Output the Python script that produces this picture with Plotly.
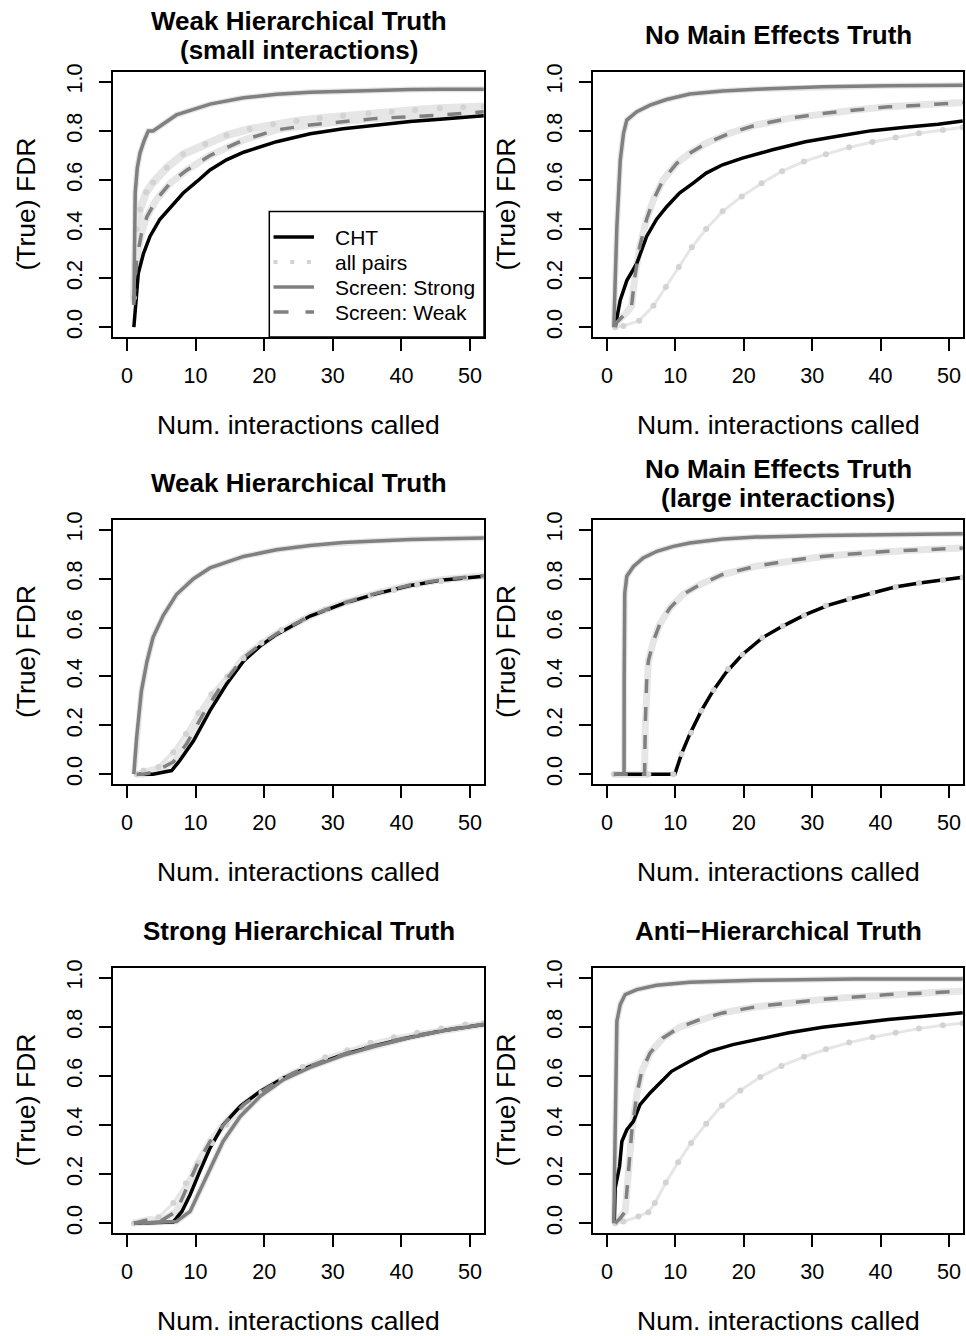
import plotly.graph_objects as go

# ---------------- data ----------------
X_TICKS = [0, 10, 20, 30, 40, 50]
Y_TICKS = [0.0, 0.2, 0.4, 0.6, 0.8, 1.0]
Y_TICK_LABELS = ["0.0", "0.2", "0.4", "0.6", "0.8", "1.0"]
SERIES_NAMES = ["CHT", "all pairs", "Screen: Strong", "Screen: Weak"]
PANEL_TITLES = [
    ["Weak Hierarchical Truth", "(small interactions)"],
    ["No Main Effects Truth"],
    ["Weak Hierarchical Truth"],
    ["No Main Effects Truth", "(large interactions)"],
    ["Strong Hierarchical Truth"],
    ["Anti\u2212Hierarchical Truth"],
]
X_LABEL = "Num. interactions called"
Y_LABEL = "(True) FDR"

# Panel 1: Weak Hierarchical Truth (small interactions)
p1_cht_x = [1.0, 1.3, 1.65, 2.4, 3.35, 4.8, 6.3, 8.2, 10.2, 12.1, 14.5, 17, 21.8, 26.7, 31.5, 36.4, 41.3, 46.1, 52]
p1_cht_y = [0.0, 0.09, 0.22, 0.30, 0.37, 0.44, 0.486, 0.547, 0.594, 0.641, 0.682, 0.713, 0.756, 0.788, 0.809, 0.824, 0.838, 0.848, 0.862]
p1_all_x = [1.0, 1.2, 1.4, 1.9, 2.8, 3.8, 5.8, 8.2, 11.4, 14.5, 17.9, 21.3, 24.7, 28.1, 31.5, 35.2, 38.6, 42.0, 45.6, 49.0, 52]
p1_all_y = [0.12, 0.25, 0.40, 0.48, 0.55, 0.59, 0.65, 0.705, 0.747, 0.782, 0.808, 0.827, 0.840, 0.852, 0.862, 0.871, 0.878, 0.885, 0.892, 0.896, 0.899]
p1_str_x = [1.0, 1.1, 1.2, 1.5, 1.9, 2.5, 3.1, 3.8, 4.8, 7.2, 9.7, 12.1, 17, 21.8, 26.7, 31.5, 36.4, 41.3, 46.1, 52]
p1_str_y = [0.09, 0.35, 0.55, 0.65, 0.71, 0.76, 0.80, 0.80, 0.82, 0.865, 0.888, 0.909, 0.935, 0.949, 0.957, 0.962, 0.966, 0.969, 0.970, 0.970]
p1_wk_x = [1.0, 1.4, 2.1, 2.9, 4.3, 6.3, 8.7, 12.1, 17, 21.8, 26.7, 31.5, 36.4, 41.3, 46.1, 52]
p1_wk_y = [0.10, 0.276, 0.38, 0.45, 0.52, 0.587, 0.64, 0.70, 0.763, 0.804, 0.824, 0.838, 0.851, 0.858, 0.865, 0.878]

# Panel 2: No Main Effects Truth
p2_cht_x = [1.2, 1.94, 2.9, 4.36, 5.8, 7.26, 8.7, 10.6, 12.6, 14.5, 16.9, 19.8, 24.2, 29, 33.9, 38.7, 43.6, 48.4, 52]
p2_cht_y = [0.0, 0.11, 0.19, 0.26, 0.37, 0.44, 0.49, 0.547, 0.587, 0.628, 0.662, 0.689, 0.723, 0.756, 0.779, 0.801, 0.815, 0.827, 0.84]
p2_all_x = [1.2, 2.4, 4.7, 6.8, 8.6, 10.5, 12.4, 14.5, 16.9, 19.7, 22.6, 25.6, 28.8, 32.0, 35.4, 38.8, 42.2, 45.6, 49.1, 52]
p2_all_y = [0.0, 0.005, 0.026, 0.087, 0.164, 0.245, 0.326, 0.40, 0.472, 0.533, 0.587, 0.636, 0.675, 0.705, 0.733, 0.755, 0.773, 0.79, 0.804, 0.815]
p2_str_x = [1.0, 1.2, 1.45, 1.94, 2.42, 2.9, 4.36, 6.3, 8.7, 12.1, 16.9, 21.8, 31.5, 41.1, 52]
p2_str_y = [0.0, 0.2, 0.41, 0.68, 0.79, 0.844, 0.878, 0.905, 0.928, 0.95, 0.963, 0.970, 0.98, 0.984, 0.986]
p2_wk_x = [1.2, 1.45, 2.9, 3.6, 4.1, 4.8, 5.8, 6.8, 8.2, 10.2, 12.1, 14.5, 17.9, 21.8, 26.6, 31.5, 36.3, 41.1, 46, 52]
p2_wk_y = [0.0, 0.02, 0.06, 0.087, 0.21, 0.33, 0.44, 0.52, 0.60, 0.668, 0.709, 0.75, 0.79, 0.824, 0.851, 0.871, 0.885, 0.898, 0.905, 0.916]

# Panel 3: Weak Hierarchical Truth
p3_cht_x = [1.4, 3.8, 6.5, 7.7, 9.7, 12.1, 14.5, 17, 19.4, 21.8, 26.7, 31.5, 36.4, 41.3, 46.1, 52]
p3_cht_y = [0.0, 0.0, 0.015, 0.056, 0.137, 0.26, 0.368, 0.463, 0.524, 0.572, 0.647, 0.698, 0.739, 0.772, 0.795, 0.81]
p3_all_x = [1.4, 2.4, 4.6, 6.75, 8.6, 10.4, 12.3, 14.6, 17, 19.6, 22.5, 25.6, 28.9, 32.1, 35.5, 38.9, 42.3, 45.8, 49.3, 52]
p3_all_y = [0.0, 0.015, 0.03, 0.09, 0.165, 0.25, 0.327, 0.40, 0.474, 0.538, 0.59, 0.633, 0.674, 0.704, 0.732, 0.754, 0.776, 0.789, 0.803, 0.81]
p3_str_x = [1.0, 1.4, 2.1, 2.9, 3.8, 5.3, 7.2, 9.7, 12.1, 17, 21.8, 26.7, 31.5, 36.4, 41.3, 46.1, 52]
p3_str_y = [0.0, 0.15, 0.34, 0.46, 0.56, 0.65, 0.735, 0.80, 0.844, 0.891, 0.918, 0.936, 0.948, 0.955, 0.96, 0.963, 0.966]
p3_wk_x = [1.4, 2.4, 4.0, 6.75, 8.7, 11.1, 13.6, 17, 19.4, 21.8, 26.7, 31.5, 36.4, 41.3, 46.1, 52]
p3_wk_y = [0.0, 0.0, 0.01, 0.05, 0.125, 0.246, 0.355, 0.477, 0.53, 0.575, 0.648, 0.70, 0.741, 0.774, 0.797, 0.812]

# Panel 4: No Main Effects Truth (large interactions)
p4_cht_x = [1.0, 9.92, 10.9, 12.1, 13.8, 15.5, 17.4, 19.8, 22.7, 25.7, 29, 32.4, 35.6, 38.7, 42.1, 45.7, 49.1, 52]
p4_cht_y = [0.0, 0.0, 0.083, 0.164, 0.26, 0.341, 0.416, 0.49, 0.558, 0.606, 0.653, 0.692, 0.718, 0.742, 0.766, 0.782, 0.795, 0.806]
p4_all_x = [1.0, 6.05, 9.7, 10.9, 12.3, 13.8, 15.6, 17.7, 19.8, 22.7, 25.7, 28.8, 32.0, 35.4, 38.8, 42.2, 45.6, 49.1, 52]
p4_all_y = [0.0, 0.0, 0.0, 0.083, 0.17, 0.26, 0.345, 0.43, 0.49, 0.558, 0.606, 0.65, 0.69, 0.718, 0.742, 0.766, 0.782, 0.795, 0.806]
p4_str_x = [1.0, 2.5, 2.52, 2.6, 2.9, 3.87, 5.3, 7.3, 9.7, 12.1, 16.9, 21.8, 31.5, 41.1, 52]
p4_str_y = [0.0, 0.0, 0.4, 0.74, 0.81, 0.85, 0.885, 0.912, 0.932, 0.946, 0.962, 0.97, 0.977, 0.981, 0.984]
p4_wk_x = [1.0, 5.5, 5.6, 5.8, 6.05, 6.8, 7.7, 9.2, 11.1, 13.6, 16.9, 21.8, 26.6, 31.5, 36.3, 41.1, 46, 52]
p4_wk_y = [0.0, 0.0, 0.2, 0.38, 0.463, 0.545, 0.613, 0.68, 0.735, 0.776, 0.817, 0.851, 0.874, 0.891, 0.902, 0.912, 0.918, 0.925]

# Panel 5: Strong Hierarchical Truth
p5_cht_x = [1.0, 6.75, 8.0, 9.2, 10.6, 12.1, 14, 16.5, 19.4, 22.8, 26.7, 31.5, 36.4, 41.3, 46.1, 52]
p5_cht_y = [0.0, 0.005, 0.048, 0.116, 0.21, 0.306, 0.40, 0.476, 0.537, 0.592, 0.639, 0.687, 0.725, 0.758, 0.785, 0.81]
p5_all_x = [1.0, 2.4, 4.6, 6.75, 8.6, 10.4, 12.4, 14.5, 17, 19.6, 22.5, 25.6, 28.9, 32.1, 35.5, 38.9, 42.3, 45.8, 49.3, 52]
p5_all_y = [0.0, 0.007, 0.024, 0.082, 0.163, 0.245, 0.327, 0.401, 0.469, 0.533, 0.585, 0.637, 0.676, 0.705, 0.735, 0.758, 0.776, 0.793, 0.81, 0.816]
p5_str_x = [1.0, 7.2, 9.2, 10.6, 12.1, 14, 16.5, 19.4, 22.8, 26.7, 31.5, 36.4, 41.3, 46.1, 52]
p5_str_y = [0.0, 0.007, 0.048, 0.13, 0.224, 0.333, 0.435, 0.517, 0.585, 0.635, 0.684, 0.723, 0.757, 0.784, 0.81]
p5_wk_x = [1.0, 3.4, 4.8, 7.2, 8.7, 10.2, 12.1, 14.5, 17, 20.4, 24.2, 29.1, 33, 38, 43, 48, 52]
p5_wk_y = [0.0, 0.016, 0.007, 0.048, 0.143, 0.238, 0.333, 0.415, 0.483, 0.551, 0.612, 0.667, 0.702, 0.74, 0.77, 0.795, 0.811]

# Panel 6: Anti-Hierarchical Truth
p6_cht_x = [1.06, 1.2, 1.84, 2.18, 2.9, 3.87, 4.84, 6.3, 7.74, 9.44, 12.1, 15, 18.4, 21.8, 26.6, 31.5, 36.3, 41.1, 46, 52]
p6_cht_y = [0.0, 0.143, 0.231, 0.333, 0.381, 0.415, 0.483, 0.531, 0.571, 0.619, 0.66, 0.70, 0.728, 0.748, 0.776, 0.799, 0.816, 0.83, 0.842, 0.858]
p6_all_x = [1.2, 2.4, 4.6, 6.05, 7.0, 8.6, 10.4, 12.3, 14.5, 16.8, 19.5, 22.4, 25.5, 28.8, 32, 35.4, 38.8, 42.2, 45.6, 49.1, 52]
p6_all_y = [0.0, 0.007, 0.027, 0.045, 0.082, 0.166, 0.248, 0.327, 0.405, 0.48, 0.541, 0.596, 0.641, 0.678, 0.709, 0.736, 0.758, 0.776, 0.793, 0.807, 0.815]
p6_str_x = [1.0, 1.2, 1.45, 1.94, 2.66, 4.36, 7.26, 12.1, 21.8, 36.3, 52]
p6_str_y = [0.0, 0.415, 0.823, 0.891, 0.932, 0.952, 0.97, 0.982, 0.99, 0.995, 0.995]
p6_wk_x = [1.2, 1.94, 2.66, 3.15, 3.63, 4.36, 5.08, 6.3, 8.2, 10.6, 13.6, 16.9, 21.8, 26.6, 31.5, 36.3, 41.1, 46, 52]
p6_wk_y = [0.0, 0.02, 0.048, 0.21, 0.374, 0.524, 0.619, 0.694, 0.755, 0.799, 0.83, 0.857, 0.882, 0.898, 0.912, 0.922, 0.932, 0.937, 0.946]

PANELS = [
    (p1_cht_x, p1_cht_y, p1_all_x, p1_all_y, p1_str_x, p1_str_y, p1_wk_x, p1_wk_y),
    (p2_cht_x, p2_cht_y, p2_all_x, p2_all_y, p2_str_x, p2_str_y, p2_wk_x, p2_wk_y),
    (p3_cht_x, p3_cht_y, p3_all_x, p3_all_y, p3_str_x, p3_str_y, p3_wk_x, p3_wk_y),
    (p4_cht_x, p4_cht_y, p4_all_x, p4_all_y, p4_str_x, p4_str_y, p4_wk_x, p4_wk_y),
    (p5_cht_x, p5_cht_y, p5_all_x, p5_all_y, p5_str_x, p5_str_y, p5_wk_x, p5_wk_y),
    (p6_cht_x, p6_cht_y, p6_all_x, p6_all_y, p6_str_x, p6_str_y, p6_wk_x, p6_wk_y),
]

# ---------------- style / layout ----------------
W, H = 966, 1336
FONT = "Liberation Sans, Arial, sans-serif"
BLACK = "#000000"
GRAY = "#808080"
LIGHT = "#d3d3d3"
BAND = "#e6e6e6"
LW = 3.5
WEAK_DASH = "14px,14px"

COL_PX = [(113, 484), (593, 963)]
ROW_PX = [(72, 337), (520, 784), (968, 1233)]
ALL_HALO = [8, 3, 4, 3, 3, 3]
V_OFF, V_SCALE = 8.0, 0.9925   # compensation for observed vertical offset in the rendered page


def px_x(p):
    return p / W


def px_y(p):
    return 1 - ((p - V_OFF) / V_SCALE) / H


fig = go.Figure()
annotations = []
shapes = []
layout_axes = {}

for i, data in enumerate(PANELS):
    r, c = divmod(i, 2)
    cx, cy = COL_PX[c], ROW_PX[r]
    n = i + 1
    xa = "x" if n == 1 else f"x{n}"
    ya = "y" if n == 1 else f"y{n}"
    xkey = "xaxis" if n == 1 else f"xaxis{n}"
    ykey = "yaxis" if n == 1 else f"yaxis{n}"
    cht_x, cht_y, all_x, all_y, str_x, str_y, wk_x, wk_y = data

    # light bands under curves
    fig.add_trace(go.Scatter(x=all_x, y=all_y, mode="lines", xaxis=xa, yaxis=ya,
                             line=dict(color=BAND, width=ALL_HALO[i]), showlegend=False, hoverinfo="skip"))
    fig.add_trace(go.Scatter(x=wk_x, y=wk_y, mode="lines", xaxis=xa, yaxis=ya,
                             line=dict(color=BAND, width=7), showlegend=False, hoverinfo="skip"))
    fig.add_trace(go.Scatter(x=str_x, y=str_y, mode="lines", xaxis=xa, yaxis=ya,
                             line=dict(color=BAND, width=6), showlegend=False, hoverinfo="skip"))
    # series
    fig.add_trace(go.Scatter(x=cht_x, y=cht_y, mode="lines", xaxis=xa, yaxis=ya, name=SERIES_NAMES[0],
                             line=dict(color=BLACK, width=LW), showlegend=False))
    fig.add_trace(go.Scatter(x=all_x, y=all_y, mode="markers", xaxis=xa, yaxis=ya, name=SERIES_NAMES[1],
                             marker=dict(color=LIGHT, size=6), showlegend=False))
    fig.add_trace(go.Scatter(x=str_x, y=str_y, mode="lines", xaxis=xa, yaxis=ya, name=SERIES_NAMES[2],
                             line=dict(color=GRAY, width=LW), showlegend=False))
    fig.add_trace(go.Scatter(x=wk_x, y=wk_y, mode="lines", xaxis=xa, yaxis=ya, name=SERIES_NAMES[3],
                             line=dict(color=GRAY, width=LW, dash=WEAK_DASH), showlegend=False))

    common = dict(showline=True, mirror=True, linecolor="black", linewidth=1.5,
                  ticks="outside", ticklen=12, tickwidth=1.5, tickcolor="black",
                  showgrid=False, zeroline=False, fixedrange=True,
                  tickfont=dict(family=FONT, size=21.6, color="black"))
    layout_axes[xkey] = dict(common, domain=[px_x(cx[0]), px_x(cx[1])], anchor=ya,
                             range=[-2.04, 52.04], tickvals=X_TICKS, ticklabelstandoff=6)
    layout_axes[ykey] = dict(common, domain=[px_y(cy[1]), px_y(cy[0])], anchor=xa,
                             range=[-0.04, 1.04], tickvals=Y_TICKS, ticktext=Y_TICK_LABELS,
                             tickangle=-90, ticklabelstandoff=9)

    # titles
    lines = PANEL_TITLES[i]
    mid_x = (cx[0] + cx[1]) / 2
    offs = [-37] if len(lines) == 1 else [-51, -22]
    for t, o in zip(lines, offs):
        annotations.append(dict(text=f"<b>{t}</b>", x=px_x(mid_x), y=px_y(cy[0] + o), xref="paper", yref="paper",
                                xanchor="center", yanchor="middle", showarrow=False,
                                font=dict(family=FONT, size=26, color="black")))
    # axis labels
    annotations.append(dict(text=X_LABEL, x=px_x(mid_x), y=px_y(cy[1] + 88), xref="paper", yref="paper",
                            xanchor="center", yanchor="middle", showarrow=False,
                            font=dict(family=FONT, size=26.5, color="black")))
    annotations.append(dict(text=Y_LABEL, x=px_x(cx[0] - 87), y=px_y((cy[0] + cy[1]) / 2), xref="paper", yref="paper",
                            xanchor="center", yanchor="middle", showarrow=False, textangle=-90,
                            font=dict(family=FONT, size=26.5, color="black")))

# ---------------- legend (panel 1, bottom-right corner) ----------------
LEG_BOX = (269.3, 211.5, 484, 337)
LEG_ROWS = [237, 262, 287, 312]
LEG_SAMPLE = (273.5, 314)
LEG_TEXT_X = 332.5
legend_styles = [
    dict(color=BLACK, width=LW),
    dict(color=LIGHT, width=4, dash="4px,12.7px"),
    dict(color=GRAY, width=LW),
    dict(color=GRAY, width=LW, dash="15px,17px"),
]
shapes.append(dict(type="rect", xref="paper", yref="paper",
                   x0=px_x(LEG_BOX[0]), x1=px_x(LEG_BOX[2]), y0=px_y(LEG_BOX[3]), y1=px_y(LEG_BOX[1]),
                   line=dict(color="black", width=1.5), fillcolor="white", layer="above"))
for name, ls, yy in zip(SERIES_NAMES, legend_styles, LEG_ROWS):
    shapes.append(dict(type="line", xref="paper", yref="paper",
                       x0=px_x(LEG_SAMPLE[0]), x1=px_x(LEG_SAMPLE[1]), y0=px_y(yy), y1=px_y(yy),
                       line=ls, layer="above"))
    annotations.append(dict(text=name, x=px_x(LEG_TEXT_X), y=px_y(yy), xref="paper", yref="paper",
                            xanchor="left", yanchor="middle", showarrow=False,
                            font=dict(family=FONT, size=21, color="black")))

fig.update_layout(
    width=W, height=H, margin=dict(l=0, r=0, t=0, b=0),
    paper_bgcolor="white", plot_bgcolor="white",
    annotations=annotations, shapes=shapes, showlegend=False,
    **layout_axes,
)

fig.write_html("out.html")
